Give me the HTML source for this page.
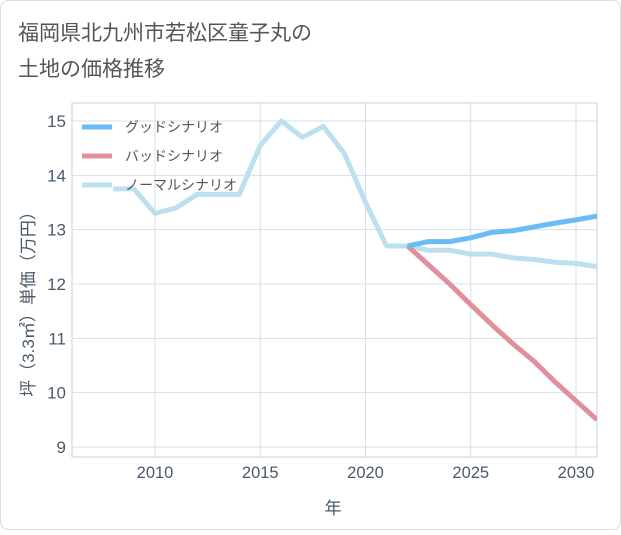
<!DOCTYPE html>
<html><head><meta charset="utf-8">
<style>
body{margin:0;background:#fff;}
#wrap{width:621px;height:530px;position:relative;font-family:"Liberation Sans","Noto Sans CJK JP",sans-serif;}
</style></head>
<body>
<div id="wrap">
<svg id="chart" width="621" height="530"></svg>
</div>
<script>
const years=[2008,2009,2010,2011,2012,2013,2014,2015,2016,2017,2018,2019,2020,2021,2022,2023,2024,2025,2026,2027,2028,2029,2030,2031];
const normalVals=[13.75,13.75,13.3,13.4,13.65,13.65,13.65,14.55,15.0,14.7,14.9,14.4,13.5,12.7,12.7,12.62,12.62,12.55,12.55,12.48,12.45,12.4,12.38,12.32];
const futureYears=[2022,2023,2024,2025,2026,2027,2028,2029,2030,2031];
const goodVals=[12.7,12.78,12.78,12.85,12.95,12.98,13.05,13.12,13.18,13.25];
const badVals=[12.7,12.35,12.0,11.62,11.25,10.9,10.58,10.2,9.85,9.5];
const xTicks=[2010,2015,2020,2025,2030];
const yTicks=[9,10,11,12,13,14,15];
const legendLabels=["グッドシナリオ","バッドシナリオ","ノーマルシナリオ"];

const NS="http://www.w3.org/2000/svg";
const svg=document.getElementById('chart');
const L=72,R=597,T=103,B=457;
const x=v=>155+(v-2010)*21.05;
const y=v=>121+(15-v)*54.33;
function mk(tag,attrs,parent){const e=document.createElementNS(NS,tag);for(const k in attrs)e.setAttribute(k,attrs[k]);(parent||svg).appendChild(e);return e;}

mk('rect',{x:0.5,y:0.5,width:620,height:529,rx:8,fill:'#fff',stroke:'#ddd'});
let t=mk('text',{x:18,y:40,'font-size':21,fill:'#555'});t.textContent='福岡県北九州市若松区童子丸の';

t=mk('text',{x:18,y:76,'font-size':21,fill:'#555'});t.textContent='土地の価格推移';


const plot=mk('rect',{x:L,y:T,width:R-L,height:B-T,fill:'#fff',stroke:'#c8d0da'});


xTicks.forEach(v=>{
 const g=mk('line',{x1:x(v),x2:x(v),y1:T,y2:B,stroke:'#d5e0ea'});
 
 const l=mk('text',{x:x(v),y:478,'font-size':16.5,fill:'#4a5a6a','text-anchor':'middle'});l.textContent=v;
 
});
yTicks.forEach(v=>{
 const g=mk('line',{x1:L,x2:R,y1:y(v),y2:y(v),stroke:'#d5e0ea'});
 
 const l=mk('text',{x:66,y:y(v)+6,'font-size':17,fill:'#4a5a6a','text-anchor':'end'});l.textContent=v;
 
});
t=mk('text',{x:333,y:514,'font-size':17,fill:'#4a5a6a','text-anchor':'middle'});t.textContent='年';

t=mk('text',{x:0,y:0,'font-size':17,fill:'#4a5a6a','text-anchor':'middle',transform:'translate(34,300) rotate(-90)'});t.textContent='坪（3.3㎡）単価（万円）';


const clip=mk('clipPath',{id:'cp'});mk('rect',{x:L,y:T,width:R-L,height:B-T},clip);
function line(xs,vs,color,name){
 const p=mk('polyline',{points:xs.map((v,i)=>x(v)+','+y(vs[i])).join(' '),fill:'none',stroke:color,'stroke-width':5,'stroke-linejoin':'round','clip-path':'url(#cp)'});
 
}
line(years,normalVals,'#bde0ef','normal-scenario-line');
line(futureYears,badVals,'#e0909a','bad-scenario-line');
line(futureYears,goodVals,'#6bbcf5','good-scenario-line');

const colors=['#6bbcf5','#e0909a','#bde0ef'];
const leg=mk('g',{});
legendLabels.forEach((s,i)=>{
 const yy=127+i*29;
 const sw=mk('line',{x1:82,x2:112,y1:yy,y2:yy,stroke:colors[i],'stroke-width':5},leg);
 
 const tx=mk('text',{x:125,y:yy+5,'font-size':14,fill:'#555'},leg);tx.textContent=s;
 
});
</script>
</body></html>
